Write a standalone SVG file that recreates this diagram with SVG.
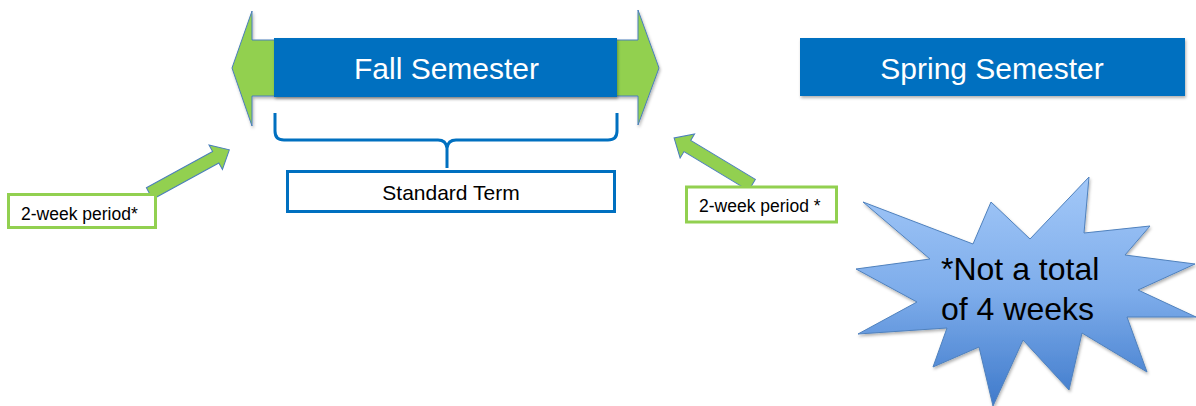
<svg xmlns="http://www.w3.org/2000/svg" width="1196" height="406" viewBox="0 0 1196 406">
<style>
.garrow{fill:#92D050;stroke:#4A7EBB;stroke-width:1;stroke-linejoin:miter}
.sem{fill:#0070C0}
.semtxt{font-family:"Liberation Sans",Arial,sans-serif;font-size:30px;fill:#FFFFFF;text-anchor:middle}
.lbl{fill:#FFFFFF;stroke:#92D050;stroke-width:3}
.lbltxt{font-family:"Liberation Sans",Arial,sans-serif;font-size:17.5px;fill:#000000}
.blue{fill:none;stroke:#0070C0;stroke-width:3}
.bluebox{fill:#FFFFFF;stroke:#0070C0;stroke-width:3}
.sttxt{font-family:"Liberation Sans",Arial,sans-serif;font-size:21px;fill:#000000;text-anchor:middle}
.startxt{font-family:"Liberation Sans",Arial,sans-serif;font-size:32px;fill:#000000}
</style>
<defs>
<filter id="sh" x="-10%" y="-10%" width="130%" height="140%">
<feDropShadow dx="1" dy="2" stdDeviation="1.5" flood-color="#000000" flood-opacity="0.3"/>
</filter>
<linearGradient id="starg" x1="0" y1="0" x2="0" y2="1">
<stop offset="0" stop-color="#A3C8F8"/>
<stop offset="0.5" stop-color="#7EADEB"/>
<stop offset="1" stop-color="#3F7ACB"/>
</linearGradient>
<polygon id="diag" points="0,-6.5 75.5,-6.5 75.5,-14 91,0 75.5,14 75.5,6.5 0,6.5"/>
</defs>

<g id="fall-arrow">
<polygon class="garrow" filter="url(#sh)" points="232,68 252,11 252,40 638,40 638,10 659,68 638,125 638,96 252,96 252,126"/>
</g>

<g id="fall-semester">
<rect class="sem" filter="url(#sh)" x="274" y="38" width="343" height="59"/>
<text class="semtxt" x="446.5" y="79">Fall Semester</text>
</g>

<g id="spring-semester">
<rect class="sem" filter="url(#sh)" x="800" y="38" width="385" height="58"/>
<text class="semtxt" x="992" y="79">Spring Semester</text>
</g>

<g id="connectors">
<path class="blue" d="M275,113 V131 Q275,140 284,140 H438 Q446,140 447,148 Q448,140 456,140 H608 Q617,140 617,131 V113 M447,148 V168"/>
<use href="#diag" class="garrow" transform="translate(149.5,193.5) rotate(-28.7)"/>
<use href="#diag" class="garrow" transform="translate(752,185) rotate(-148.9)"/>
</g>

<g id="standard-term">
<rect class="bluebox" x="287.5" y="171.5" width="327" height="40"/>
<text class="sttxt" x="451" y="200">Standard Term</text>
</g>

<g id="label-left">
<rect class="lbl" x="8.5" y="194.5" width="147" height="33"/>
<text class="lbltxt" x="21" y="220">2-week period*</text>
</g>

<g id="label-right">
<rect class="lbl" x="686.5" y="187" width="150" height="35"/>
<text class="lbltxt" x="699" y="212">2-week period *</text>
</g>

<g id="note-star">
<polygon filter="url(#sh)" fill="url(#starg)" stroke="#4F81BD" stroke-width="1" points="1089,177 1084,233 1150,226 1125,255 1195,264 1138,290 1196,317 1127,317 1147,372 1082,333 1069,390 1023,340 993,406 979,347 933,367 947,328 858,334 917,302 856,269 930,259 863,202 973,244 991,202 1030,239"/>
<text class="startxt" x="941" y="280">*Not a total</text>
<text class="startxt" x="941" y="320">of 4 weeks</text>
</g>
</svg>
